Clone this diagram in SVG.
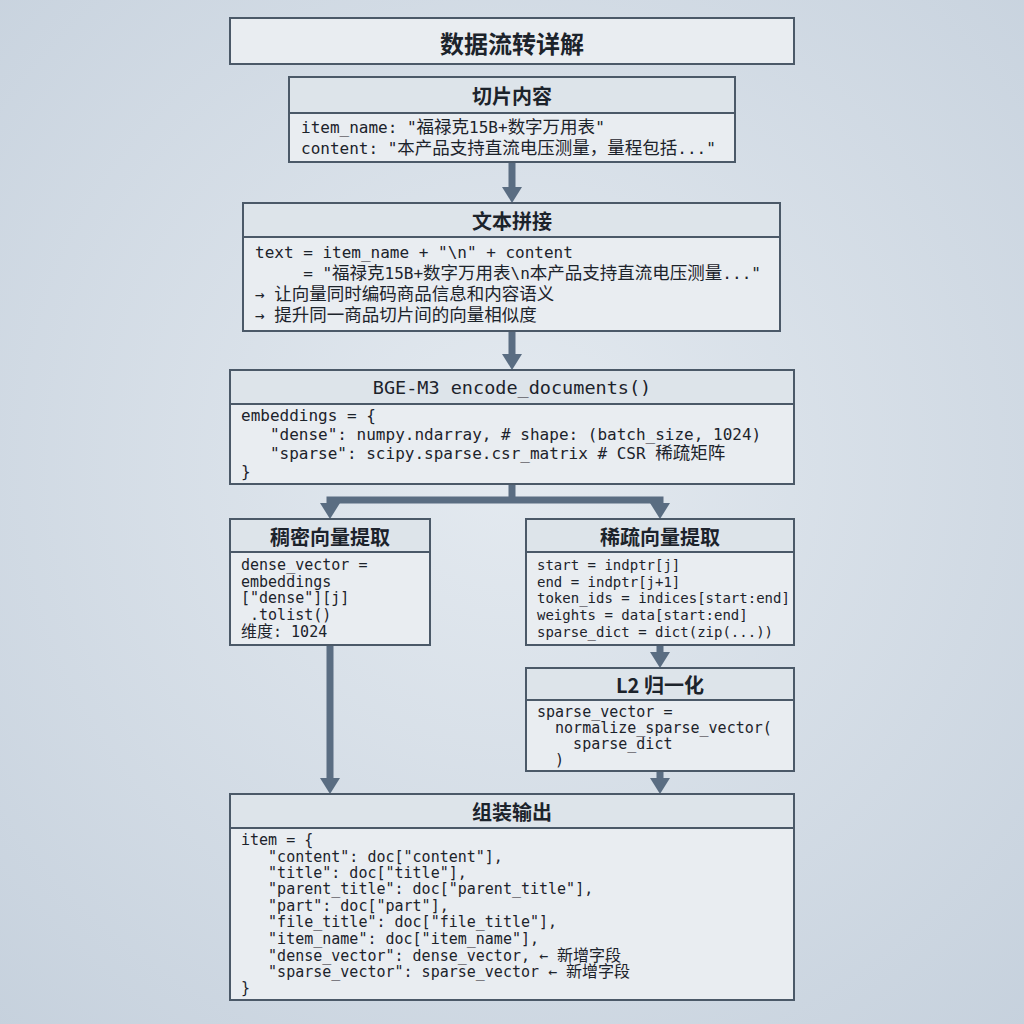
<svg xmlns="http://www.w3.org/2000/svg" width="1024" height="1024" viewBox="0 0 1024 1024">
<defs>
<radialGradient id="bg" cx="50%" cy="45%" r="75%">
<stop offset="0" stop-color="#e4eaf0"/>
<stop offset="1" stop-color="#c6d1dd"/>
</radialGradient>
<marker id="ah" markerUnits="userSpaceOnUse" markerWidth="16" markerHeight="20" refX="0" refY="10" orient="auto" viewBox="0 0 16 20">
<path d="M0,0 L16,10 L0,20 z" fill="#5a6d82"/>
</marker>
<style>
.box{fill:#e9edf1;stroke:#4b5968;stroke-width:2}
.hd{fill:#dde4ea;stroke:#4b5968;stroke-width:2}
.ht{font-family:"Noto Sans CJK SC","Noto Sans",sans-serif;font-weight:bold;font-size:20px;fill:#1c232b;text-anchor:middle;dominant-baseline:central}
.hm{font-family:"DejaVu Sans Mono",monospace;font-size:18.5px;fill:#1c232b;text-anchor:middle;dominant-baseline:central}
.m{font-family:"DejaVu Sans Mono","Noto Sans CJK SC",monospace;font-size:16px;fill:#1c232b;white-space:pre}
.s{font-size:15px}
.t{font-size:14px}
.c{font-family:"Noto Sans CJK SC",sans-serif;font-size:17.5px}
.cs{font-family:"Noto Sans CJK SC",sans-serif;font-size:16px}
.ar{fill:none;stroke:#5a6d82;stroke-width:7;marker-end:url(#ah)}
.ln{fill:none;stroke:#5a6d82;stroke-width:7}
</style>
</defs>
<rect width="1024" height="1024" fill="url(#bg)"/>

<g id="title">
<rect class="box" x="230" y="18" width="564" height="46"/>
<text class="ht" x="512" y="42" style="font-size:24px">数据流转详解</text>
</g>

<g id="connectors">
<path class="ar" d="M512,162 V187"/>
<path class="ar" d="M512,331 V354"/>
<path class="ln" d="M512,484 V500"/>
<path class="ar" d="M512,500 H330 V503"/>
<path class="ar" d="M512,500 H660 V503"/>
<path class="ar" d="M660,645 V652"/>
<path class="ar" d="M330,645 V778"/>
<path class="ar" d="M660,771 V778"/>
</g>

<g id="slice">
<rect class="box" x="289" y="77" width="446" height="85"/>
<rect class="hd" x="289" y="77" width="446" height="36"/>
<text class="ht" x="512" y="95">切片内容</text>
<text class="m"><tspan x="301" y="133">item_name: "<tspan class="c">福禄克</tspan>15B+<tspan class="c">数字万用表</tspan>"</tspan><tspan x="301" y="154">content: "<tspan class="c">本产品支持直流电压测量，量程包括</tspan>..."</tspan></text>
</g>

<g id="concat">
<rect class="box" x="243" y="203" width="537" height="128"/>
<rect class="hd" x="243" y="203" width="537" height="34"/>
<text class="ht" x="512" y="220">文本拼接</text>
<text class="m"><tspan x="255" y="258">text = item_name + "\n" + content</tspan><tspan x="255" y="279">     = "<tspan class="c">福禄克</tspan>15B+<tspan class="c">数字万用表</tspan>\n<tspan class="c">本产品支持直流电压测量</tspan>..."</tspan><tspan x="255" y="300">→ <tspan class="c">让向量同时编码商品信息和内容语义</tspan></tspan><tspan x="255" y="321">→ <tspan class="c">提升同一商品切片间的向量相似度</tspan></tspan></text>
</g>

<g id="encode">
<rect class="box" x="230" y="370" width="564" height="114"/>
<rect class="hd" x="230" y="370" width="564" height="34"/>
<text class="hm" x="512" y="387">BGE-M3 encode_documents()</text>
<text class="m"><tspan x="241" y="421">embeddings = {</tspan><tspan x="241" y="440">   "dense": numpy.ndarray, # shape: (batch_size, 1024)</tspan><tspan x="241" y="459">   "sparse": scipy.sparse.csr_matrix # CSR <tspan class="c">稀疏矩阵</tspan></tspan><tspan x="241" y="477">}</tspan></text>
</g>

<g id="dense">
<rect class="box" x="230" y="519" width="200" height="126"/>
<rect class="hd" x="230" y="519" width="200" height="33"/>
<text class="ht" x="330" y="536">稠密向量提取</text>
<text class="m s"><tspan x="241" y="570">dense_vector =</tspan><tspan x="241" y="587">embeddings</tspan><tspan x="241" y="603">["dense"][j]</tspan><tspan x="241" y="620"> .tolist()</tspan><tspan x="241" y="637"><tspan class="cs">维度</tspan>: 1024</tspan></text>
</g>

<g id="sparse">
<rect class="box" x="526" y="519" width="268" height="126"/>
<rect class="hd" x="526" y="519" width="268" height="33"/>
<text class="ht" x="660" y="536">稀疏向量提取</text>
<text class="m t"><tspan x="537" y="570">start = indptr[j]</tspan><tspan x="537" y="587">end = indptr[j+1]</tspan><tspan x="537" y="603">token_ids = indices[start:end]</tspan><tspan x="537" y="620">weights = data[start:end]</tspan><tspan x="537" y="637">sparse_dict = dict(zip(...))</tspan></text>
</g>

<g id="normalize">
<rect class="box" x="526" y="668" width="268" height="103"/>
<rect class="hd" x="526" y="668" width="268" height="32"/>
<text class="ht" x="660" y="684">L2 归一化</text>
<text class="m s"><tspan x="537" y="717">sparse_vector =</tspan><tspan x="537" y="733">  normalize_sparse_vector(</tspan><tspan x="537" y="749">    sparse_dict</tspan><tspan x="537" y="765">  )</tspan></text>
</g>

<g id="output">
<rect class="box" x="230" y="794" width="564" height="206"/>
<rect class="hd" x="230" y="794" width="564" height="34"/>
<text class="ht" x="512" y="811">组装输出</text>
<text class="m s"><tspan x="241" y="845">item = {</tspan><tspan x="241" y="862">   "content": doc["content"],</tspan><tspan x="241" y="878">   "title": doc["title"],</tspan><tspan x="241" y="894">   "parent_title": doc["parent_title"],</tspan><tspan x="241" y="911">   "part": doc["part"],</tspan><tspan x="241" y="927">   "file_title": doc["file_title"],</tspan><tspan x="241" y="944">   "item_name": doc["item_name"],</tspan><tspan x="241" y="961">   "dense_vector": dense_vector, ← <tspan class="cs">新增字段</tspan></tspan><tspan x="241" y="977">   "sparse_vector": sparse_vector ← <tspan class="cs">新增字段</tspan></tspan><tspan x="241" y="993">}</tspan></text>
</g>
</svg>
